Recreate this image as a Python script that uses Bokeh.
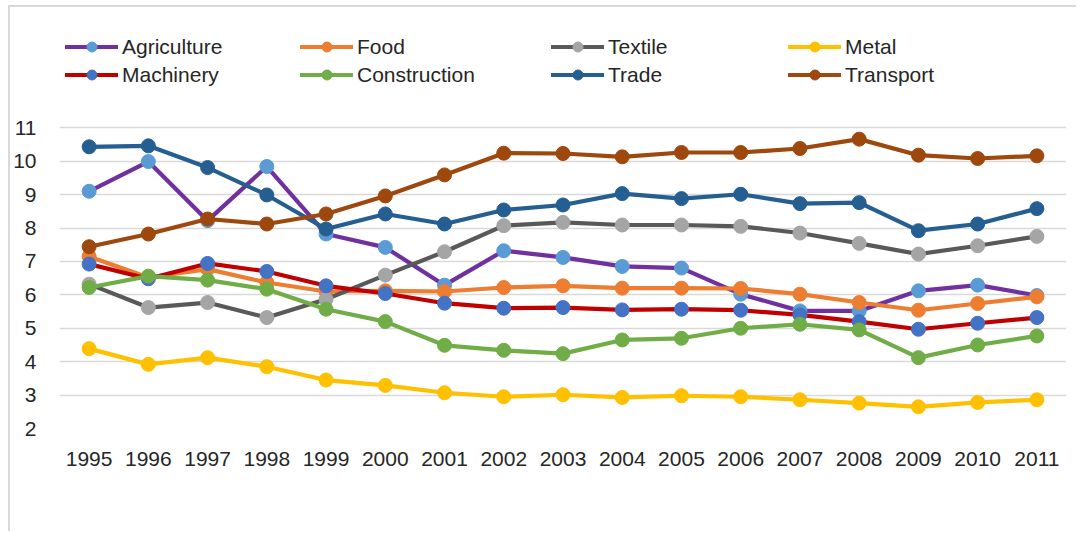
from bokeh.plotting import figure
from bokeh.models import Legend, LegendItem, FactorRange, Range1d, FixedTicker
from bokeh.embed import file_html
from bokeh.resources import INLINE

years = [str(y) for y in range(1995, 2012)]

agriculture = [9.10, 9.99, 8.22, 9.84, 7.82, 7.42, 6.29, 7.32, 7.12, 6.85, 6.80, 6.02, 5.52, 5.52, 6.12, 6.29, 5.98]
food = [7.15, 6.52, 6.77, 6.37, 6.10, 6.12, 6.10, 6.22, 6.27, 6.20, 6.20, 6.19, 6.02, 5.77, 5.54, 5.74, 5.94]
textile = [6.32, 5.62, 5.77, 5.32, 5.87, 6.59, 7.29, 8.07, 8.17, 8.09, 8.09, 8.05, 7.85, 7.54, 7.22, 7.47, 7.75]
metal = [4.39, 3.92, 4.12, 3.85, 3.45, 3.29, 3.07, 2.95, 3.01, 2.93, 2.98, 2.95, 2.86, 2.76, 2.65, 2.78, 2.86]
machinery = [6.92, 6.48, 6.94, 6.70, 6.27, 6.04, 5.75, 5.60, 5.62, 5.55, 5.57, 5.54, 5.40, 5.20, 4.97, 5.15, 5.32]
construction = [6.22, 6.56, 6.44, 6.17, 5.57, 5.20, 4.49, 4.34, 4.24, 4.65, 4.70, 5.00, 5.12, 4.95, 4.12, 4.50, 4.77]
trade = [10.43, 10.46, 9.81, 8.99, 7.97, 8.42, 8.12, 8.54, 8.69, 9.03, 8.88, 9.01, 8.73, 8.76, 7.92, 8.12, 8.58]
transport = [7.44, 7.82, 8.27, 8.12, 8.42, 8.96, 9.59, 10.24, 10.23, 10.13, 10.26, 10.26, 10.38, 10.66, 10.18, 10.08, 10.16]

y_ticks = [2, 3, 4, 5, 6, 7, 8, 9, 10, 11]

# name, values, line colour, marker colour
series = [
    ("Agriculture", agriculture, "#7030A0", "#5B9BD5"),
    ("Food", food, "#ED7D31", "#ED7D31"),
    ("Textile", textile, "#595959", "#A5A5A5"),
    ("Metal", metal, "#FFC000", "#FFC000"),
    ("Machinery", machinery, "#C00000", "#4472C4"),
    ("Construction", construction, "#70AD47", "#70AD47"),
    ("Trade", trade, "#255E91", "#255E91"),
    ("Transport", transport, "#9E480E", "#9E480E"),
]

FONT = "Liberation Sans"
TEXT = "#262626"

# The frame reaches up to the top border so the legend rows sit inside it;
# the value scale keeps 2..11 in the lower part with room above for the key.
p = figure(
    width=1068, height=526,
    x_range=FactorRange(factors=years, range_padding=0),
    y_range=Range1d(2, 14.6),
    output_backend="svg", toolbar_location=None,
    min_border_left=49, min_border_right=12,
    min_border_top=0, min_border_bottom=105,
)
p.margin = (5, 0, 0, 8)
p.styles = {"border-left": "2px solid #D9D9D9", "border-top": "2px solid #D9D9D9"}
p.outline_line_color = None
p.background_fill_color = "white"
p.border_fill_color = "white"

p.xgrid.grid_line_color = None
p.ygrid.grid_line_color = "#D9D9D9"
p.ygrid.grid_line_width = 1.3
p.yaxis.ticker = FixedTicker(ticks=y_ticks)

for ax in (p.xaxis, p.yaxis):
    ax.axis_line_color = None
    ax.major_tick_line_color = None
    ax.minor_tick_line_color = None
    ax.major_tick_out = 0
    ax.major_tick_in = 0
    ax.minor_tick_out = 0
    ax.major_label_text_font = FONT
    ax.major_label_text_font_size = "21px"
    ax.major_label_text_color = TEXT
p.yaxis.major_label_standoff = 23
p.xaxis.major_label_standoff = 23

renderers = {}
for name, vals, lc, mc in series:
    lr = p.line(years, vals, line_color=lc, line_width=4.2, line_join="round", line_cap="round")
    sr = p.scatter(years, vals, size=14, fill_color=mc, line_color=mc)
    renderers[name] = [lr, sr]

columns = [
    (["Agriculture", "Machinery"], 6),
    (["Food", "Construction"], 241),
    (["Textile", "Trade"], 492),
    (["Metal", "Transport"], 729),
]
for names, xpos in columns:
    leg = Legend(
        items=[LegendItem(label=n, renderers=renderers[n]) for n in names],
        location=(xpos, 341),
        orientation="vertical",
        glyph_width=53, glyph_height=25, label_height=25,
        label_standoff=4, spacing=3, padding=0, margin=0,
        border_line_color=None, background_fill_alpha=0,
        label_text_font=FONT, label_text_font_size="21px", label_text_color=TEXT,
    )
    p.add_layout(leg, "center")

open("out.html", "w").write(file_html(p, INLINE))
